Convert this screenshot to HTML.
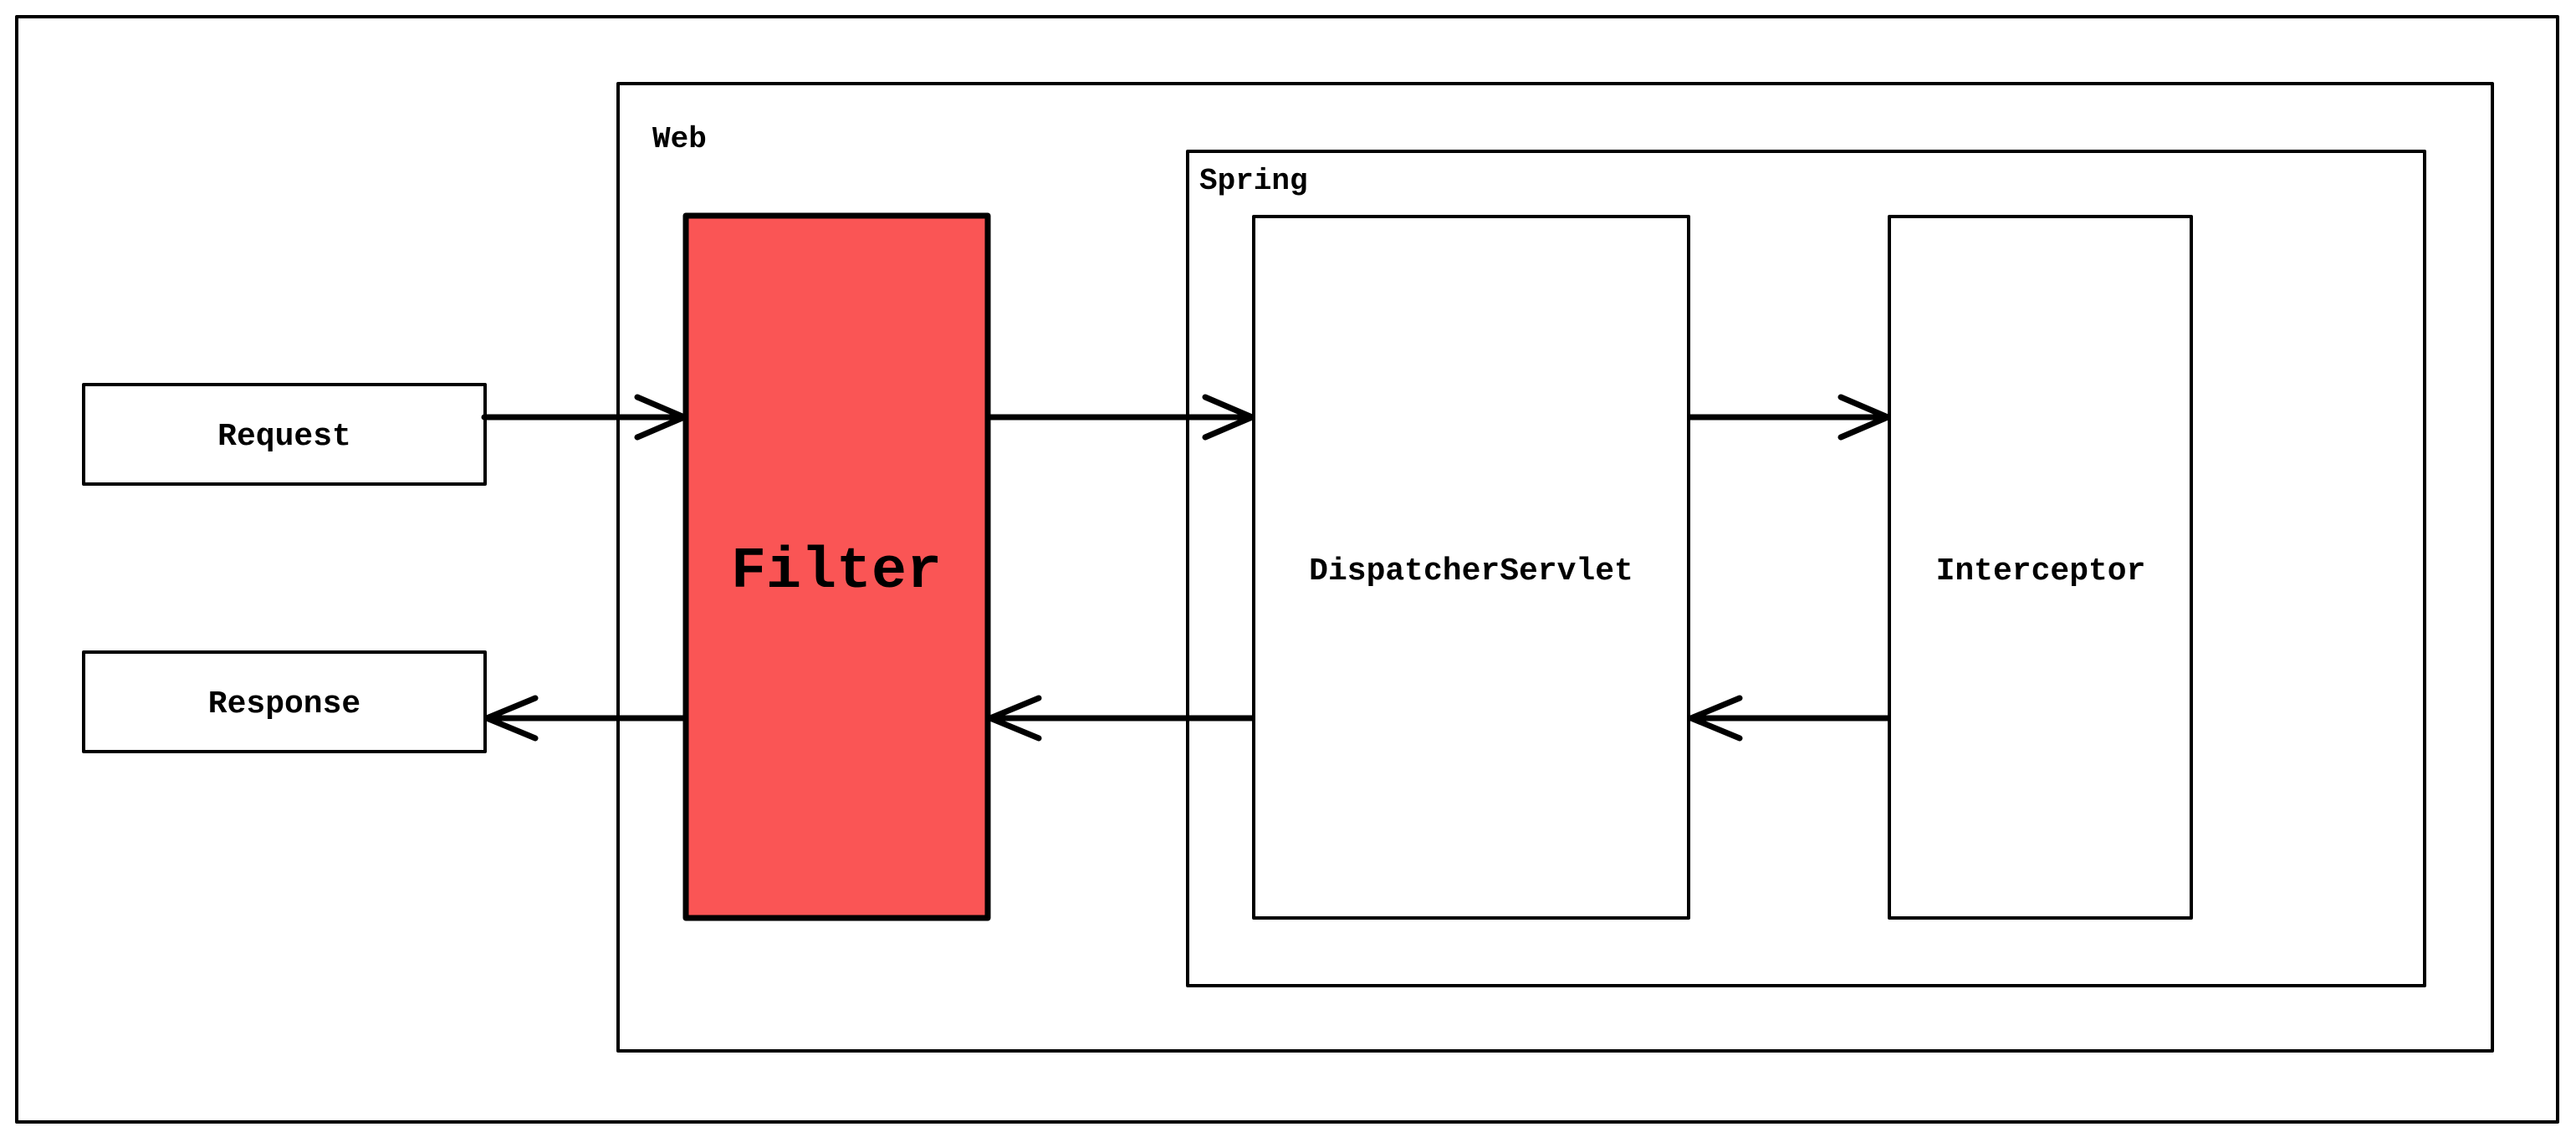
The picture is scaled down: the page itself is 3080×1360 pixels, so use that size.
<!DOCTYPE html>
<html><head><meta charset="utf-8"><style>
html,body{margin:0;padding:0;background:#fff;}
svg{display:block;}
text{font-family:"Liberation Mono","DejaVu Sans Mono",monospace;font-weight:bold;fill:#000;}
</style></head><body>
<svg width="3080" height="1360" viewBox="0 0 3080 1360" xmlns="http://www.w3.org/2000/svg">
<rect x="0" y="0" width="3080" height="1360" fill="#fff"/>
<g fill="none" stroke="#000" stroke-width="4" stroke-linejoin="round">
<rect x="20" y="20" width="3038" height="1322"/>
<rect x="739" y="100" width="2241" height="1157"/>
<rect x="1420" y="181" width="1479" height="998"/>
<rect x="1499" y="259" width="520" height="839"/>
<rect x="2259" y="259" width="361" height="839"/>
<rect x="100" y="460" width="480" height="119"/>
<rect x="100" y="780" width="480" height="119"/>
</g>
<rect x="820" y="258" width="361" height="840" fill="#FA5555" stroke="#000" stroke-width="7" stroke-linejoin="round"/>
<g fill="none" stroke="#000" stroke-width="7" stroke-linecap="round" stroke-linejoin="round">
<line x1="579" y1="499" x2="818" y2="499"/><polyline points="762,475 818,499 762,523"/>
<line x1="1184" y1="499" x2="1497" y2="499"/><polyline points="1441,475 1497,499 1441,523"/>
<line x1="2021" y1="499" x2="2257" y2="499"/><polyline points="2201,475 2257,499 2201,523"/>
<line x1="818" y1="859" x2="582" y2="859"/><polyline points="640,835 582,859 640,883"/>
<line x1="1497" y1="859" x2="1184" y2="859"/><polyline points="1242,835 1184,859 1242,883"/>
<line x1="2257" y1="859" x2="2022" y2="859"/><polyline points="2080,835 2022,859 2080,883"/>
</g>
<text x="780" y="176" font-size="36">Web</text>
<text x="1434" y="226" font-size="36">Spring</text>
<text x="340" y="532" font-size="38" text-anchor="middle">Request</text>
<text x="340" y="852" font-size="38" text-anchor="middle">Response</text>
<text x="1000" y="702" font-size="70" text-anchor="middle">Filter</text>
<text x="1759" y="693" font-size="38" text-anchor="middle">DispatcherServlet</text>
<text x="2440" y="693" font-size="38" text-anchor="middle">Interceptor</text>
</svg>
</body></html>
